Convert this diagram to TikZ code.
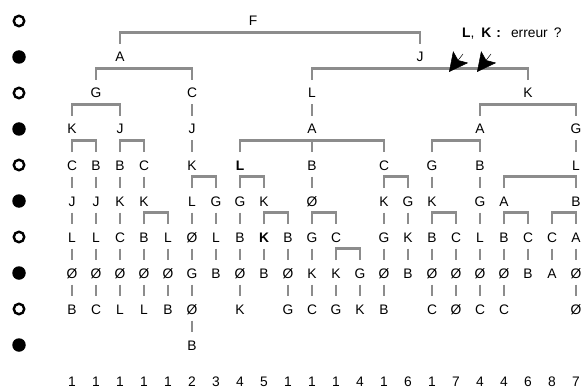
\documentclass[tikz,border=0pt]{standalone}
\usepackage{fontspec}
\setmainfont{Liberation Sans}
\usetikzlibrary{calc,arrows.meta}
\definecolor{lg}{RGB}{140,140,140}
\newcommand\nd[3]{\node[lab] (L#1c#2) at ({72+24*(#2-1)},{21+36*#1}) {#3};}
\newcommand\brk[3]{\draw[conn] ($(#2)+(0,-13)$) -- ($(#2|-#1)+(0,11.5)$) -- ($(#3|-#1)+(0,11.5)$) -- ($(#3)+(0,-13)$);}
\newcommand\vl[2]{\draw[conn] ($(#2|-#1)+(0,11.5)$) -- ($(#2)+(0,-13)$);}
\begin{document}
\begin{tikzpicture}[x=1pt,y=-1pt,
  lab/.style={inner sep=0pt, text height=10pt, text depth=0pt, font=\fontsize{13.8}{14}\selectfont, anchor=center},
  conn/.style={draw=lg, line width=2.4pt, line join=miter},
  ocirc/.style={circle, draw=black, line width=2.4pt, minimum size=10.5pt, inner sep=0pt},
  fcirc/.style={circle, fill=black, minimum size=13.5pt, inner sep=0pt},
  arr/.style={line width=0.5pt, arrows={-Stealth[length=19pt,width=19pt,inset=4pt]}}]
\useasboundingbox (0,0) rectangle (585,390);
% row markers
\foreach \r in {0,2,4,6,8} \node[ocirc] (o\r) at (19,{21+36*\r}) {};
\foreach \r in {1,3,5,7,9} \node[fcirc] (f\r) at (19,{21+36*\r}) {};
% level 0,1
\node[lab] (F) at (253,21) {F};
\nd{1}{3}{A}
\node[lab] (J) at (420,57) {J};
% level 2
\nd{2}{2}{G} \nd{2}{6}{C} \nd{2}{11}{L} \nd{2}{20}{K}
% level 3
\nd{3}{1}{K} \nd{3}{3}{J} \nd{3}{6}{J} \nd{3}{11}{A} \nd{3}{18}{A} \nd{3}{22}{G}
% level 4
\nd{4}{1}{C} \nd{4}{2}{B} \nd{4}{3}{B} \nd{4}{4}{C} \nd{4}{6}{K} \nd{4}{8}{\textbf{L}}
\nd{4}{11}{B} \nd{4}{14}{C} \nd{4}{16}{G} \nd{4}{18}{B} \nd{4}{22}{L}
% level 5
\nd{5}{1}{J} \nd{5}{2}{J} \nd{5}{3}{K} \nd{5}{4}{K} \nd{5}{6}{L} \nd{5}{7}{G} \nd{5}{8}{G}
\nd{5}{9}{K} \nd{5}{11}{Ø} \nd{5}{14}{K} \nd{5}{15}{G} \nd{5}{16}{K} \nd{5}{18}{G}
\nd{5}{19}{A} \nd{5}{22}{B}
% level 6
\nd{6}{1}{L} \nd{6}{2}{L} \nd{6}{3}{C} \nd{6}{4}{B} \nd{6}{5}{L} \nd{6}{6}{Ø} \nd{6}{7}{L}
\nd{6}{8}{B} \nd{6}{9}{\textbf{K}} \nd{6}{10}{B} \nd{6}{11}{G} \nd{6}{12}{C} \nd{6}{14}{G}
\nd{6}{15}{K} \nd{6}{16}{B} \nd{6}{17}{C} \nd{6}{18}{L} \nd{6}{19}{B} \nd{6}{20}{C}
\nd{6}{21}{C} \nd{6}{22}{A}
% level 7
\foreach \t [count=\c] in {Ø,Ø,Ø,Ø,Ø,G,B,Ø,B,Ø,K,K,G,Ø,B,Ø,Ø,Ø,Ø,B,A,Ø} {\nd{7}{\c}{\t}}
% level 8
\nd{8}{1}{B} \nd{8}{2}{C} \nd{8}{3}{L} \nd{8}{4}{L} \nd{8}{5}{B} \nd{8}{6}{Ø} \nd{8}{8}{K}
\nd{8}{10}{G} \nd{8}{11}{C} \nd{8}{12}{G} \nd{8}{13}{K} \nd{8}{14}{B} \nd{8}{16}{C}
\nd{8}{17}{Ø} \nd{8}{18}{C} \nd{8}{19}{C} \nd{8}{22}{Ø}
% level 9
\nd{9}{6}{B}
% counts
\foreach \t [count=\c] in {1,1,1,1,1,2,3,4,5,1,1,1,4,1,6,1,7,4,4,6,8,7} {\nd{10}{\c}{\t}}
% connectors
\brk{F}{L1c3}{J}
\brk{L1c3}{L2c2}{L2c6}
\brk{J}{L2c11}{L2c20}
\brk{L2c2}{L3c1}{L3c3}
\vl{L2c6}{L3c6}
\vl{L2c11}{L3c11}
\brk{L2c20}{L3c18}{L3c22}
\brk{L3c1}{L4c1}{L4c2}
\brk{L3c3}{L4c3}{L4c4}
\vl{L3c6}{L4c6}
\brk{L3c11}{L4c8}{L4c14}
\vl{L3c11}{L4c11}
\brk{L3c18}{L4c16}{L4c18}
\vl{L3c22}{L4c22}
\foreach \c in {1,2,3,4,11,16,18} {\vl{L4c\c}{L5c\c}}
\brk{L4c6}{L5c6}{L5c7}
\brk{L4c8}{L5c8}{L5c9}
\brk{L4c14}{L5c14}{L5c15}
\brk{L4c22}{L5c19}{L5c22}
\foreach \c in {1,2,3,6,7,8,14,15,18} {\vl{L5c\c}{L6c\c}}
\brk{L5c4}{L6c4}{L6c5}
\brk{L5c9}{L6c9}{L6c10}
\brk{L5c11}{L6c11}{L6c12}
\brk{L5c16}{L6c16}{L6c17}
\brk{L5c19}{L6c19}{L6c20}
\brk{L5c22}{L6c21}{L6c22}
\foreach \c in {1,2,3,4,5,6,7,8,9,10,11,14,15,16,17,18,19,20,21,22} {\vl{L6c\c}{L7c\c}}
\brk{L6c12}{L7c12}{L7c13}
\foreach \c in {1,2,3,4,5,6,8,10,11,12,13,14,16,17,18,19,22} {\vl{L7c\c}{L8c\c}}
\vl{L8c6}{L9c6}
% annotation
\node[lab, anchor=west] (note) at (462,33) {\textbf{L},\hspace{7pt}\textbf{K}\hspace{5pt}\textbf{:}\hspace{10pt}erreur\hspace{6pt}?};
\coordinate (a1t) at (463,54); \coordinate (a1h) at (449,72);
\coordinate (a2t) at (491,54); \coordinate (a2h) at (477,72);
\draw[arr] (a1t) -- (a1h);
\draw[arr] (a2t) -- (a2h);
\end{tikzpicture}
\end{document}
